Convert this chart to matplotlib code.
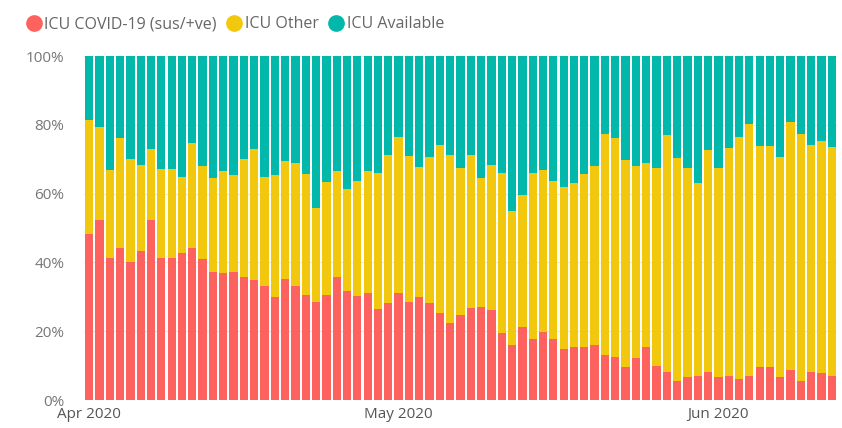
import numpy as np
import matplotlib
matplotlib.use("Agg")
import matplotlib.pyplot as plt
from matplotlib.lines import Line2D

# daily ICU share, 1 Apr - 12 Jun 2020 (percent)
covid = [48.4, 52.3, 41.2, 44.1, 40.0, 43.2, 52.3, 41.2, 41.2, 42.6,
         44.3, 41.0, 37.1, 36.8, 37.1, 35.7, 34.9, 33.1, 30.0, 35.2,
         33.1, 30.5, 28.6, 30.5, 35.9, 31.8, 30.2, 31.2, 26.4, 28.3,
         31.0, 28.5, 30.0, 28.3, 25.4, 22.5, 24.7, 26.6, 26.9, 26.2,
         19.4, 16.0, 21.3, 17.6, 19.7, 17.7, 14.8, 15.3, 15.3, 16.0,
         13.1, 12.6, 9.7, 12.1, 15.3, 9.9, 8.2, 5.6, 6.8, 7.1,
         8.2, 6.6, 7.1, 6.0, 7.0, 9.7, 9.7, 6.6, 8.7, 5.5,
         8.2, 7.8, 7.0]
occupied = [81.4, 79.3, 66.9, 76.1, 70.1, 68.3, 72.9, 67.1, 67.1, 64.9,
            74.8, 68.1, 64.6, 66.5, 65.4, 70.2, 73.0, 64.9, 65.4, 69.6,
            69.0, 65.6, 55.9, 63.4, 66.5, 61.2, 63.7, 66.6, 66.1, 71.2,
            76.4, 71.0, 67.8, 70.5, 74.1, 71.2, 67.3, 71.2, 64.4, 68.3,
            65.9, 54.9, 59.6, 65.9, 66.9, 63.7, 62.0, 63.2, 65.6, 68.0,
            77.3, 76.3, 69.8, 68.0, 69.0, 67.3, 77.0, 70.3, 67.3, 63.0,
            72.7, 67.3, 73.3, 76.4, 80.1, 73.8, 73.8, 70.5, 80.9, 77.3,
            74.1, 75.3, 73.5]
other = [o - c for o, c in zip(occupied, covid)]
available = [100 - o for o in occupied]

dates = np.arange(len(covid))
tick_pos = [0, 30, 61]
tick_labels = ["Apr 2020", "May 2020", "Jun 2020"]

c_red = "#FD625E"
c_yel = "#F2C80F"
c_teal = "#01B8AA"

plt.rcParams['font.family'] = ['Open Sans', 'DejaVu Sans']

fig = plt.figure(figsize=(8.42, 4.28), dpi=100)
ax = fig.add_axes([84 / 842, 1 - 400 / 428, 753 / 842, 344 / 428])

w = 0.8
ax.bar(dates, covid, w, color=c_red, zorder=2)
ax.bar(dates, other, w, bottom=covid, color=c_yel, zorder=2)
ax.bar(dates, available, w, bottom=occupied, color=c_teal, zorder=2)

ax.set_xlim(-0.5, len(covid) - 0.5)
ax.set_ylim(0, 100)
ax.set_yticks([0, 20, 40, 60, 80, 100])
ax.set_yticklabels(["0%", "20%", "40%", "60%", "80%", "100%"])
ax.set_xticks(tick_pos)
ax.set_xticklabels(tick_labels)
ax.tick_params(axis='y', length=0, pad=14, labelsize=11, labelcolor="#777777")
ax.tick_params(axis='x', length=0, pad=5, labelsize=11, labelcolor="#555555")
ax.grid(axis='y', color="#e6e6e6", linewidth=0.8, zorder=0)
for s in ax.spines.values():
    s.set_visible(False)

handles = [Line2D([], [], marker='o', linestyle='', markersize=11, color=c)
           for c in (c_red, c_yel, c_teal)]
fig.legend(handles, ["ICU COVID-19 (sus/+ve)", "ICU Other", "ICU Available"],
           loc='upper left', bbox_to_anchor=(10 / 842, 1 - 2 / 428), ncol=3,
           frameon=False, handletextpad=0.05, columnspacing=0.5,
           handlelength=1.2, fontsize=11.5, labelcolor="#666666")

fig.savefig("out.png", dpi=100)
